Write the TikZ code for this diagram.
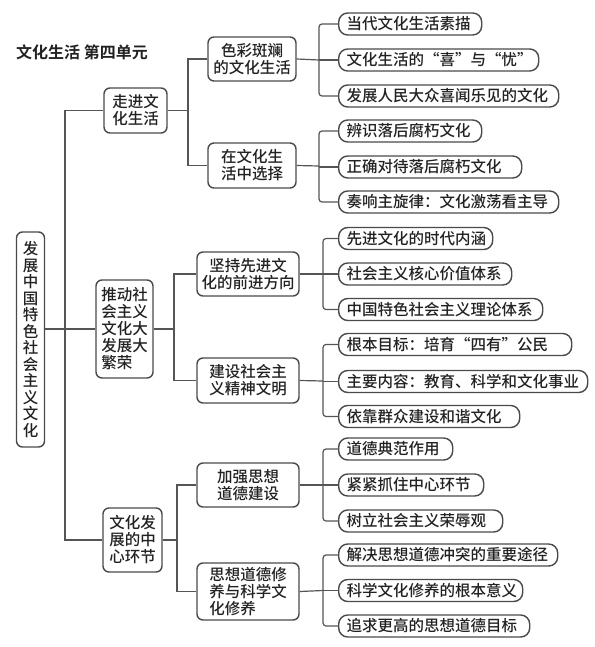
\documentclass[tikz,border=0pt]{standalone}
\usepackage{fontspec}
\setmainfont{Noto Sans CJK SC}[UprightFont={* Medium},BoldFont={* Bold}]
\definecolor{linec}{HTML}{555555}
\definecolor{boxc}{HTML}{4A4A4A}
\definecolor{txt}{HTML}{222222}
\newcommand\fs{\fontsize{15.5pt}{17pt}\selectfont}
\begin{document}
\begin{tikzpicture}[x=1pt,y=-1pt,
  conn/.style={draw=linec, line width=1.2pt},
  box/.style={draw=boxc, line width=1.4pt, rounded corners=6pt, align=center, inner sep=0pt, font=\fs, text=txt},
  leaf/.style={draw=boxc, line width=1.4pt, rounded corners=9pt, anchor=west, minimum height=22pt, inner xsep=8pt, inner ysep=0pt, align=left, font=\fs, text=txt},
]
\useasboundingbox (0,0) rectangle (594,647);
% title
\node[anchor=west, inner sep=0pt, font=\fontsize{16pt}{18pt}\selectfont\bfseries, text=txt] (title) at (16,52) {文化生活 第四单元};
% root
\node[box, minimum width=28pt, minimum height=215pt, font=\fontsize{15.5pt}{16.5pt}\selectfont] (root) at (30.5,339.5)
  {发\\展\\中\\国\\特\\色\\社\\会\\主\\义\\文\\化};
% level 1
\node[box, minimum width=63pt, minimum height=45pt] (la) at (135.5,110.5) {走进文\\化生活};
\node[box, minimum width=57pt, minimum height=98pt] (lb) at (124.5,329) {推动社\\会主义\\文化大\\发展大\\繁荣\phantom{荣}};
\node[box, minimum width=59pt, minimum height=64pt] (lc) at (132.5,540) {文化发\\展的中\\心环节};
% level 2
\node[box, minimum width=88pt, minimum height=44pt] (ma) at (252,59) {色彩斑斓\\的文化生活};
\node[box, minimum width=88pt, minimum height=45pt] (mb) at (252,165.5) {在文化生\\活中选择};
\node[box, minimum width=102pt, minimum height=44pt] (mc) at (248,274) {坚持先进文\\化的前进方向};
\node[box, minimum width=102pt, minimum height=45pt] (md) at (248,380.5) {建设社会主\\义精神文明};
\node[box, minimum width=102pt, minimum height=44pt] (me) at (248,485) {加强思想\\道德建设};
\node[box, minimum width=102pt, minimum height=57pt] (mf) at (248,591.5) {思想道德修\\养与科学文\\化修养\phantom{学文}};
% leaves
\node[leaf, text width=127pt] (a1) at (338,24) {当代文化生活素描};
\node[leaf, text width=184pt] (a2) at (338,60) {文化生活的“喜”与“忧”};
\node[leaf, text width=204pt] (a3) at (338,96) {发展人民大众喜闻乐见的文化};
\node[leaf, text width=127pt] (b1) at (338,131) {辨识落后腐朽文化};
\node[leaf, text width=167pt] (b2) at (338,167) {正确对待落后腐朽文化};
\node[leaf, text width=204pt] (b3) at (338,202) {奏响主旋律：文化激荡看主导};
\node[leaf, text width=138pt] (c1) at (338,238.5) {先进文化的时代内涵};
\node[leaf, text width=157pt] (c2) at (338,274) {社会主义核心价值体系};
\node[leaf, text width=188pt] (c3) at (338,309.5) {中国特色社会主义理论体系};
\node[leaf, text width=217pt] (d1) at (338,344.5) {根本目标：培育“四有”公民};
\node[leaf, text width=233pt] (d2) at (338,381.5) {主要内容：教育、科学和文化事业};
\node[leaf, text width=165pt] (d3) at (338,416.5) {依靠群众建设和谐文化};
\node[leaf, text width=98pt] (e1) at (338,449) {道德典范作用};
\node[leaf, text width=129pt] (e2) at (338,485) {紧紧抓住中心环节};
\node[leaf, text width=148pt] (e3) at (338,521) {树立社会主义荣辱观};
\node[leaf, text width=203pt] (f1) at (338,555) {解决思想道德冲突的重要途径};
\node[leaf, text width=168pt] (f2) at (338,590.5) {科学文化修养的根本意义};
\node[leaf, text width=175pt] (f3) at (338,626) {追求更高的思想道德目标};
% bus coordinates
\coordinate (t0) at (65,330);
\coordinate (tA) at (188,110.5);
\coordinate (tB) at (174,329);
\coordinate (tC) at (177,540);
\coordinate (sA) at (319,60);
\coordinate (sB) at (319,166);
\coordinate (sC) at (323,274);
\coordinate (sD) at (323,381);
\coordinate (sE) at (323,485);
\coordinate (sF) at (323,590.5);
% connectors
\draw[conn] (lb.west) -- (lb.west -| root.east);
\draw[conn] (la.west) -| (t0) |- (lc.west);
\draw[conn] (la.east) -- (tA);
\draw[conn] (ma.west) -| (tA) |- (mb.west);
\draw[conn] (lb.east) -- (tB);
\draw[conn] (mc.west) -| (tB) |- (md.west);
\draw[conn] (lc.east) -- (tC);
\draw[conn] (me.west) -| (tC) |- (mf.west);
\foreach \p/\s/\u/\m/\w in {ma/sA/a1/a2/a3, mb/sB/b1/b2/b3, mc/sC/c1/c2/c3, md/sD/d1/d2/d3, me/sE/e1/e2/e3, mf/sF/f1/f2/f3}{
  \draw[conn] (\p.east) -- (\s);
  \draw[conn, rounded corners=3pt] (\u.west) -| (\s) |- (\w.west);
  \draw[conn] (\m.west) -- (\m.west -| \s);
}
\end{tikzpicture}
\end{document}
